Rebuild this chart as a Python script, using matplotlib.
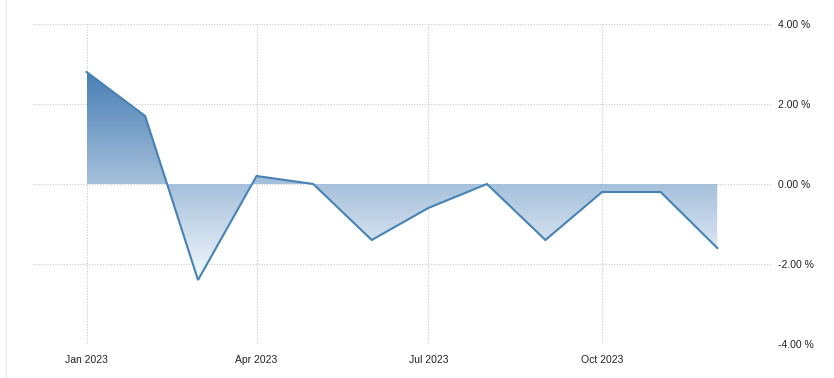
import matplotlib
matplotlib.use("Agg")
import matplotlib.pyplot as plt
import matplotlib.dates as mdates
import numpy as np
import pandas as pd
from matplotlib.colors import LinearSegmentedColormap
from matplotlib.patches import PathPatch
from matplotlib.path import Path

months = ["2023-01-01", "2023-02-01", "2023-03-01", "2023-04-01", "2023-05-01", "2023-06-01",
          "2023-07-01", "2023-08-01", "2023-09-01", "2023-10-01", "2023-11-01", "2023-12-01"]
values = [2.8, 1.7, -2.4, 0.2, 0.0, -1.4, -0.6, 0.0, -1.4, -0.2, -0.2, -1.6]
x_ticks = ["2023-01-01", "2023-04-01", "2023-07-01", "2023-10-01"]
x_tick_labels = ["Jan 2023", "Apr 2023", "Jul 2023", "Oct 2023"]
y_ticks = [-4, -2, 0, 2, 4]
y_tick_labels = ["-4.00 %", "-2.00 %", "0.00 %", "2.00 %", "4.00 %"]

dates = pd.to_datetime(months)
xn = mdates.date2num(dates)

fig = plt.figure(figsize=(8.34, 3.78), dpi=100)
ax = fig.add_axes([33/834, 1-344/378, (772-33)/834, (344-24)/378])

line_color = "#4682b4"

# gradient fill between line and zero
poly = ax.fill_between(xn, values, 0, facecolor="none", edgecolor="none")
cmap = LinearSegmentedColormap.from_list("g", ["#f4f8fc", "#4a7fb5"])
ymin, ymax = min(values), max(values)
grad = np.linspace(0, 1, 256).reshape(-1, 1)
im = ax.imshow(grad, cmap=cmap, aspect="auto", origin="lower",
               extent=[xn[0], xn[-1], ymin, ymax], zorder=1)
paths = poly.get_paths()
verts = np.concatenate([p.vertices for p in paths])
codes = np.concatenate([p.codes if p.codes is not None else
                        np.r_[Path.MOVETO, [Path.LINETO]*(len(p.vertices)-1)] for p in paths])
clip = PathPatch(Path(verts, codes), transform=ax.transData, facecolor="none", edgecolor="none")
ax.add_patch(clip)
im.set_clip_path(clip)

ax.plot(xn, values, color=line_color, lw=1.5, zorder=3, solid_joinstyle="miter")

xlim_left = mdates.date2num(pd.Timestamp("2022-12-03")) + 0.6
xlim_right = mdates.date2num(pd.Timestamp("2023-12-30"))
ax.set_xlim(xlim_left, xlim_right)
ax.set_ylim(-4, 4)

ax.set_xticks(mdates.date2num(pd.to_datetime(x_ticks)))
ax.set_xticklabels(x_tick_labels)
ax.set_yticks(y_ticks)
ax.set_yticklabels(y_tick_labels)
ax.yaxis.tick_right()

ax.tick_params(axis="both", length=0, labelsize=7.5, colors="#222222")
ax.tick_params(axis="x", pad=8)
ax.tick_params(axis="y", pad=4)
for lab in ax.get_xticklabels() + ax.get_yticklabels():
    lab.set_fontfamily(["Liberation Sans", "DejaVu Sans"])

ax.grid(True, color="#c8c8c8", linestyle=(0, (1, 1.5)), linewidth=0.8, zorder=0)
ax.set_axisbelow(True)
for s in ax.spines.values():
    s.set_visible(False)

# faint container border on the left
fig.add_artist(plt.Line2D([6/834, 6/834], [0, 1], color="#eeeeee", lw=1, transform=fig.transFigure))

fig.savefig("out.png", dpi=100)
